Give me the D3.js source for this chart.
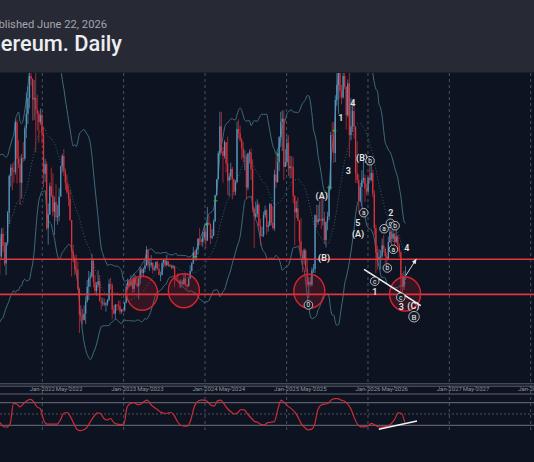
<!DOCTYPE html>
<html>
<head>
<meta charset="utf-8">
<script src="https://cdn.jsdelivr.net/npm/d3@7"></script>
<style>
    html, body { margin: 0; padding: 0; background: #0d1320; overflow: hidden; }
    svg { display: block; }
</style>
</head>
<body>
<div id="chart-container"></div>
<script>
// Weekly candles as [close, high, low]; each week opens at the previous close.
const weekStart = "2021-02-08";
const firstOpen = 1610;

const weeks2021 = [
    [1780,1870,1560],[1930,2040,1730],[1420,1960,1370],[1660,1700,1400],[1850,1940,1640],[1780,1880,1730],
    [1710,1830,1580],[2090,2140,1700],[2140,2200,1950],[2240,2550,1950],[2310,2420,2040],[2950,2980,2300],
    [3920,4000,2950],[3580,4380,3500],[2100,3600,1730],[2280,2900,2100],[2630,2890,2250],[2370,2650,2320],
    [2250,2620,2030],[1990,2300,1720],[2320,2400,1950],[2140,2410,2050],[1890,2200,1850],[2190,2200,1720],
    [2630,2650,2150],[3160,3180,2460],[3280,3330,3000],[3240,3340,2950],[3220,3370,3060],[3940,3960,3180],
    [3410,3980,3050],[3330,3680,3270],[3060,3450,2740],[3420,3480,2830],[3410,3650,3360],[3850,3890,3380],
    [4060,4370,3710],[4290,4460,3910],[4610,4660,4140],[4570,4870,4470],[4270,4570,3960],[4290,4550,3970],
    [4120,4780,3500],[4060,4340,3820],[3940,4100,3640],[4040,4140,3900],[3770,4100,3630]
];
const weeks2022 = [
    [3190,3880,3000],[3330,3410,3070],[2400,3370,2370],[2600,2760,2160],[3010,3060,2590],[2880,3280,2850],
    [2640,3200,2570],[2780,2860,2300],[2560,3040,2500],[2580,2740,2450],[2860,2980,2500],[3300,3310,2860],
    [3450,3480,3210],[3230,3550,3160],[3060,3270,2960],[2920,3180,2900],[2830,3030,2720],[2520,2960,2500],
    [2060,2520,1700],[1970,2160,1910],[1810,2010,1720],[1800,2020,1740],[1520,1920,1500],[1150,1540,880],
    [1140,1280,1040],[1070,1230,1000],[1160,1280,1060],[1340,1410,1010],[1550,1650,1320],[1680,1780,1360],
    [1700,1760,1550],[1930,2030,1680],[1620,1960,1540],[1490,1720,1430],[1580,1620,1420],[1630,1790,1540],
    [1340,1720,1340],[1320,1400,1220],[1320,1390,1270],[1290,1380,1270],[1310,1330,1190],[1360,1370,1270],
    [1590,1660,1340],[1570,1680,1510],[1220,1600,1080],[1160,1280,1150],[1290,1300,1080],[1280,1300,1200],
    [1270,1350,1220],[1190,1350,1150],[1220,1230,1160],[1210,1230,1180]
];
const weeks2023 = [
    [1320,1330,1190],[1550,1600,1310],[1630,1670,1510],[1570,1660,1540],[1630,1720,1560],[1520,1680,1460],
    [1680,1740,1470],[1600,1720,1580],[1560,1670,1540],[1670,1680,1370],[1800,1840,1590],[1750,1830,1680],
    [1810,1830,1690],[1860,1940,1760],[2090,2140,1850],[1870,2100,1820],[1870,1960,1780],[1900,2010,1830],
    [1800,1900,1740],[1820,1860,1780],[1910,1920,1780],[1810,1930,1800],[1720,1890,1720],[1720,1770,1630],
    [1890,1930,1720],[1940,1950,1830],[1860,1960,1840],[1920,2020,1860],[1860,1920,1850],[1860,1880,1840],
    [1830,1870,1800],[1850,1870,1810],[1670,1850,1550],[1650,1700,1630],[1630,1750,1620],[1600,1650,1540],
    [1620,1660,1530],[1590,1650,1570],[1670,1750,1570],[1580,1750,1550],[1560,1590,1520],[1670,1690,1550],
    [1780,1860,1670],[1890,1910,1770],[2050,2130,1880],[2010,2080,1930],[2090,2100,1930],[2250,2250,2020],
    [2240,2400,2150],[2200,2250,2150],[2270,2340,2130],[2350,2450,2220]
];
const weeks2024 = [
    [2220,2420,2110],[2480,2710,2220],[2460,2580,2440],[2260,2470,2170],[2290,2390,2240],[2500,2530,2290],
    [2880,2880,2490],[3110,3110,2870],[3490,3520,3110],[3880,4090,3450],[3520,4090,3480],[3450,3580,3060],
    [3650,3680,3410],[3340,3650,3210],[3090,3730,2880],[3150,3200,2860],[3260,3350,3100],[3110,3290,2820],
    [2930,3120,2870],[3070,3100,2880],[3840,3950,3060],[3780,3980,3700],[3680,3890,3650],[3560,3710,3400],
    [3430,3650,3360],[3440,3530,3240],[2990,3480,2820],[3480,3500,2950],[3500,3540,3340],[3260,3560,3100],
    [2680,3400,2630],[2570,2700,2110],[2610,2790,2550],[2740,2820,2560],[2440,2770,2410],[2290,2540,2150],
    [2300,2420,2280],[2590,2640,2270],[2660,2730,2550],[2420,2680,2310],[2440,2500,2350],[2750,2770,2430],
    [2480,2760,2440],[2400,2720,2380],[3180,3250,2360],[3070,3440,2980],[3360,3500,3060],[3720,3740,3230],
    [3940,4090,3580],[3990,4110,3520],[3290,4110,3100],[3360,3550,3300],[3640,3750,3340]
];
const weeks2025 = [
    [3270,3750,3160],[3300,3450,3120],[3290,3450,3130],[2870,3430,2760],[2630,2880,2150],[2690,2800,2550],
    [2510,2850,2500],[2210,2520,2080],[2020,2550,1990],[1940,2080,1760],[2080,2110,1870],[1820,2100,1770],
    [1580,1960,1550],[1620,1690,1390],[1580,1690,1550],[1790,1830,1560],[1810,1880,1750],[2590,2600,1750],
    [2490,2740,2410],[2530,2740,2450],[2530,2790,2500],[2510,2880,2390],[2540,2880,2440],[2230,2640,2170],
    [2490,2500,2120],[2570,2640,2370],[2970,3030,2520],[3750,3800,2950],[3740,3940,3510],[3490,3940,3350],
    [4260,4330,3360],[4480,4790,4180],[4780,4950,4060],[4390,4790,4280],[4300,4480,4200],[4610,4770,4280],
    [4450,4770,4420],[4040,4460,3830],[4500,4560,4010],[3750,4760,3430],[3880,4290,3680],[4100,4250,3800],
    [3870,4250,3700],[3200,3880,3060],[3100,3660,3050],[2800,3180,2620],[3000,3060,2780],[3100,3240,2720],
    [3130,3450,3050],[2980,3180,2780],[2930,3050,2880],[3130,3150,2900]
];
const weeks2026 = [
    [3100,3300,3050],[3200,3400,3080],[2900,3250,2850],[2400,2950,2300],[2050,2450,1750],[1950,2150,1800],
    [1980,2100,1850],[2000,2080,1800],[2150,2250,1950],[2100,2300,2050],[2000,2120,1900],[1950,2050,1880],
    [2200,2280,1940],[2350,2420,2180],[2250,2380,2150],[2320,2400,2200],[2200,2330,2150],[2280,2380,2180],
    [2150,2300,2100],[2050,2180,1980],[1700,2080,1450],[1550,1750,1420],[1700,1780,1500],[1720,1850,1650]
];

// Support / resistance levels and highlighted zones (decimal year, price).
const levels = [1950, 1440];
const zones = [
    {yr: 2023.227, p: 1456}, {yr: 2023.740, p: 1493},
    {yr: 2025.279, p: 1485}, {yr: 2026.456, p: 1446}
];

// Oscillator, one reading every 15 days.
const oscStart = "2021-06-26";
const oscStepDays = 15;
const oscValues = [
    27,16,15,25,78,76,69,78,85,89,83,69,64,34,23,23,23,23,34,52,
    54,43,25,9,6,8,15,30,43,53,52,38,34,38,27,23,22,23,69,78,
    80,75,76,83,87,76,68,62,55,52,52,54,47,30,20,18,18,34,68,83,
    87,87,83,74,71,85,87,76,64,56,50,53,62,61,50,40,31,28,22,21,
    27,28,30,61,87,80,71,65,56,43,25,15,8,9,21,61,74,76,78,87,
    91,91,87,84,76,61,38,21,16,16,18,25,21,16,15,16,18,25,36,53,
    52,27
];
const oscLevels = [80, 50, 20];

const tickLabels = ["Jan-2022","May-2022","Jan-2023","May-2023","Jan-2024","May-2024","Jan-2025",
    "May-2025","Jan-2026","May-2026","Jan-2027","May-2027","Jan-2028"];

// Wave counts (decimal year, price).
const waveLabels = [
    {t: "1", yr: 2025.666, p: 4004, ring: false}, {t: "4", yr: 2025.813, p: 4213, ring: false},
    {t: "3", yr: 2025.759, p: 3235, ring: false}, {t: "(B)", yr: 2025.927, p: 3424, ring: false},
    {t: "b", yr: 2026.025, p: 3380, ring: true}, {t: "(A)", yr: 2025.432, p: 2872, ring: false},
    {t: "(B)", yr: 2025.461, p: 1972, ring: false}, {t: "0", yr: 2025.268, p: 1286, ring: true},
    {t: "a", yr: 2025.948, p: 2626, ring: true}, {t: "5", yr: 2025.875, p: 2472, ring: false},
    {t: "(A)", yr: 2025.878, p: 2312, ring: false}, {t: "a", yr: 2026.198, p: 2393, ring: true},
    {t: "2", yr: 2026.280, p: 2617, ring: false}, {t: "c", yr: 2026.275, p: 2472, ring: true},
    {t: "b", yr: 2026.333, p: 2437, ring: true}, {t: "a", yr: 2026.312, p: 2094, ring: true},
    {t: "4", yr: 2026.477, p: 2113, ring: false}, {t: "b", yr: 2026.238, p: 1823, ring: true},
    {t: "c", yr: 2026.083, p: 1630, ring: true}, {t: "1", yr: 2026.083, p: 1479, ring: false},
    {t: "c", yr: 2026.403, p: 1398, ring: true}, {t: "3", yr: 2026.410, p: 1253, ring: false},
    {t: "(C)", yr: 2026.558, p: 1271, ring: false}, {t: "B", yr: 2026.566, p: 1116, ring: true}
];

const greenMarks = [
    {yr: 2023.880, p: 1987}, {yr: 2024.020, p: 2458}, {yr: 2024.130, p: 2797},
    {yr: 2024.892, p: 3463}, {yr: 2025.526, p: 2991}, {yr: 2025.587, p: 3816}
];

const trendLine = [{yr: 2025.952, p: 1804}, {yr: 2026.649, p: 1276}];
const arrowLine = [{yr: 2026.468, p: 1719}, {yr: 2026.591, p: 1947}];
const oscTrend = [{yr: 2026.133, v: 9.3}, {yr: 2026.603, v: 31.3}];

const width = 534;
const height = 462;
const headerHeight = 72.5;
const paneTop = 73;
const paneBottom = 383;
const gridBottom = 433;

const upColor = "#5893bb";
const downColor = "#d8323d";
const bandColor = "#3f6d7d";
const red = "#e2363f";
const fontFamily = "Roboto, 'Noto Sans', sans-serif";

const dayMs = 864e5;
const parseDay = d3.utcParse("%Y-%m-%d");
const parseTick = d3.utcParse("%b-%Y");

function fromYear(yr) {
    const y0 = Math.floor(yr);
    const a = Date.UTC(y0, 0, 1);
    const b = Date.UTC(y0 + 1, 0, 1);
    return new Date(a + (yr - y0) * (b - a));
}

const x = d3.scaleUtc()
    .domain([new Date(Date.UTC(2022, 0, 1)), new Date(Date.UTC(2028, 0, 1))])
    .range([42.3, 530.7]);

const y = d3.scaleLinear()
    .domain([0, 5000])
    .range([393.6, 49.1]);

const yOsc = d3.scaleLinear()
    .domain([0, 100])
    .range([432.8, 395.2]);

// candles
const rows = [].concat(weeks2021, weeks2022, weeks2023, weeks2024, weeks2025, weeks2026);
const start = parseDay(weekStart).getTime();
let prevClose = firstOpen;
const candles = rows.map((r, i) => {
    const open = prevClose;
    prevClose = r[0];
    return {
        date: new Date(start + (i * 7 + 3.5) * dayMs),
        open: open,
        close: r[0],
        high: Math.max(r[1], open, r[0]),
        low: Math.min(r[2], open, r[0])
    };
});

// Bollinger bands (20, 2) on the weekly closes
const bands = [];
candles.forEach((d, i) => {
    if (i < 19) return;
    const win = candles.slice(i - 19, i + 1).map(c => c.close);
    const m = d3.mean(win);
    const sd = Math.sqrt(d3.mean(win, v => (v - m) * (v - m)));
    bands.push({date: d.date, mid: m, up: m + 2 * sd, lo: m - 2 * sd});
});

const osc = oscValues.map((v, i) => ({
    date: new Date(parseDay(oscStart).getTime() + i * oscStepDays * dayMs),
    v: v
}));

const svg = d3.select("#chart-container").append("svg")
    .attr("width", width)
    .attr("height", height)
    .style("font-family", fontFamily);

const defs = svg.append("defs");
defs.append("clipPath").attr("id", "pane")
    .append("rect")
    .attr("x", 0).attr("y", paneTop)
    .attr("width", width).attr("height", paneBottom - paneTop);
defs.append("marker")
    .attr("id", "arrow")
    .attr("viewBox", "0 0 10 10")
    .attr("refX", 8).attr("refY", 5)
    .attr("markerWidth", 6).attr("markerHeight", 6)
    .attr("orient", "auto")
    .append("path")
    .attr("d", "M0,1 L10,5 L0,9 Z")
    .attr("fill", "#e8e8e8");

svg.append("rect")
    .attr("width", width).attr("height", height)
    .attr("fill", "#0d1320");

// year grid
const ticks = tickLabels.map(t => ({label: t, date: parseTick(t)}));
svg.append("g")
    .selectAll("line")
    .data(ticks.filter(t => t.label.startsWith("Jan")))
    .join("line")
    .attr("x1", d => x(d.date)).attr("x2", d => x(d.date))
    .attr("y1", paneTop).attr("y2", gridBottom)
    .attr("stroke", "#4b515e")
    .attr("stroke-width", 1)
    .attr("stroke-dasharray", "3,3");

const pane = svg.append("g").attr("clip-path", "url(#pane)");

// bands
const bandLine = key => d3.line()
    .x(d => x(d.date))
    .y(d => y(d[key]))
    .curve(d3.curveMonotoneX);

pane.append("path").datum(bands)
    .attr("d", bandLine("mid"))
    .attr("fill", "none")
    .attr("stroke", bandColor)
    .attr("stroke-width", 0.8)
    .attr("stroke-dasharray", "1,2");
["up", "lo"].forEach(k => {
    pane.append("path").datum(bands)
        .attr("d", bandLine(k))
        .attr("fill", "none")
        .attr("stroke", bandColor)
        .attr("stroke-width", 1);
});

// candles
const candleG = pane.append("g");
candleG.selectAll(".wick")
    .data(candles)
    .join("line")
    .attr("class", "wick")
    .attr("x1", d => x(d.date)).attr("x2", d => x(d.date))
    .attr("y1", d => y(d.high)).attr("y2", d => y(d.low))
    .attr("stroke", d => d.close >= d.open ? upColor : downColor)
    .attr("stroke-width", 0.7);
candleG.selectAll(".body")
    .data(candles)
    .join("rect")
    .attr("class", "body")
    .attr("x", d => x(d.date) - 0.65)
    .attr("width", 1.3)
    .attr("y", d => y(Math.max(d.open, d.close)))
    .attr("height", d => Math.max(0.8, Math.abs(y(d.open) - y(d.close))))
    .attr("fill", d => d.close >= d.open ? upColor : downColor);

// green markers
const gm = pane.append("g").attr("stroke", "#3cb44b").attr("stroke-width", 1);
greenMarks.forEach(d => {
    const cx = x(fromYear(d.yr));
    const cy = y(d.p);
    gm.append("line").attr("x1", cx - 2).attr("x2", cx + 2).attr("y1", cy).attr("y2", cy);
    gm.append("line").attr("x1", cx).attr("x2", cx).attr("y1", cy - 1.5).attr("y2", cy + 1.5);
});

// levels
pane.selectAll(".level")
    .data(levels)
    .join("line")
    .attr("class", "level")
    .attr("x1", 0).attr("x2", width)
    .attr("y1", d => y(d)).attr("y2", d => y(d))
    .attr("stroke", red)
    .attr("stroke-width", 1.7);

// zones
pane.selectAll(".zone")
    .data(zones)
    .join("ellipse")
    .attr("class", "zone")
    .attr("cx", d => x(fromYear(d.yr)))
    .attr("cy", d => y(d.p))
    .attr("rx", 15.5)
    .attr("ry", 17)
    .attr("fill", "rgba(190, 30, 45, 0.22)")
    .attr("stroke", "#d4252f")
    .attr("stroke-width", 1.4);

// trend line and arrow
pane.append("line")
    .attr("x1", x(fromYear(trendLine[0].yr))).attr("y1", y(trendLine[0].p))
    .attr("x2", x(fromYear(trendLine[1].yr))).attr("y2", y(trendLine[1].p))
    .attr("stroke", "#f2f2f2")
    .attr("stroke-width", 1.6);
pane.append("line")
    .attr("x1", x(fromYear(arrowLine[0].yr))).attr("y1", y(arrowLine[0].p))
    .attr("x2", x(fromYear(arrowLine[1].yr))).attr("y2", y(arrowLine[1].p))
    .attr("stroke", "#e8e8e8")
    .attr("stroke-width", 0.9)
    .attr("marker-end", "url(#arrow)");

// wave labels
const waves = pane.append("g");
waveLabels.forEach(d => {
    const cx = x(fromYear(d.yr));
    const cy = y(d.p);
    if (d.ring) {
        const big = d.t === d.t.toUpperCase() && isNaN(+d.t);
        waves.append("circle")
            .attr("cx", cx).attr("cy", cy)
            .attr("r", big ? 5.3 : 4.3)
            .attr("fill", "#151b27")
            .attr("stroke", "#d8d8d8")
            .attr("stroke-width", 0.8);
        waves.append("text")
            .attr("x", cx).attr("y", cy)
            .attr("dy", "0.35em")
            .attr("text-anchor", "middle")
            .attr("font-size", big ? 8 : 6.5)
            .attr("fill", "#eeeeee")
            .text(d.t);
    } else {
        waves.append("text")
            .attr("x", cx).attr("y", cy)
            .attr("dy", "0.35em")
            .attr("text-anchor", "middle")
            .attr("font-size", 9)
            .attr("font-weight", 600)
            .attr("fill", "#e4e4e4")
            .text(d.t);
    }
});

// time axis
[383.8, 386.2].forEach(v => {
    svg.append("line")
        .attr("x1", 0).attr("x2", width)
        .attr("y1", v).attr("y2", v)
        .attr("stroke", "#5e626d")
        .attr("stroke-width", 1);
});
svg.append("g")
    .selectAll("line")
    .data(ticks.filter(t => !t.label.startsWith("Jan")))
    .join("line")
    .attr("x1", d => x(d.date)).attr("x2", d => x(d.date))
    .attr("y1", 386).attr("y2", 388.5)
    .attr("stroke", "#5e626d");
svg.append("g")
    .selectAll("text")
    .data(ticks)
    .join("text")
    .attr("x", d => x(d.date))
    .attr("y", 391.3)
    .attr("text-anchor", "middle")
    .attr("font-size", 6)
    .attr("fill", "#8f939c")
    .text(d => d.label);
svg.append("line")
    .attr("x1", 0).attr("x2", width)
    .attr("y1", 394).attr("y2", 394)
    .attr("stroke", "#5e626d")
    .attr("stroke-width", 1.2);

// oscillator pane
svg.append("g")
    .selectAll("line")
    .data(oscLevels)
    .join("line")
    .attr("x1", 0).attr("x2", width)
    .attr("y1", d => yOsc(d)).attr("y2", d => yOsc(d))
    .attr("stroke", d => d === 50 ? "#6a6e79" : "#5a5e69")
    .attr("stroke-width", d => d === 50 ? 0.7 : 1.3)
    .attr("stroke-dasharray", d => d === 50 ? "2,2" : null);

svg.append("path").datum(osc)
    .attr("d", d3.line()
        .x(d => x(d.date))
        .y(d => yOsc(d.v))
        .curve(d3.curveMonotoneX))
    .attr("fill", "none")
    .attr("stroke", "#d02c37")
    .attr("stroke-width", 1.2);

svg.append("line")
    .attr("x1", x(fromYear(oscTrend[0].yr))).attr("y1", yOsc(oscTrend[0].v))
    .attr("x2", x(fromYear(oscTrend[1].yr))).attr("y2", yOsc(oscTrend[1].v))
    .attr("stroke", "#f2f2f2")
    .attr("stroke-width", 1.5);

// header
svg.append("rect")
    .attr("width", width).attr("height", headerHeight)
    .attr("fill", "#272a35");
svg.append("text")
    .attr("x", 107).attr("y", 28)
    .attr("text-anchor", "end")
    .attr("font-size", 11.2)
    .attr("fill", "#a3a6af")
    .text("published June 22, 2026");
svg.append("text")
    .attr("x", 122).attr("y", 51)
    .attr("text-anchor", "end")
    .attr("font-size", 21.8)
    .attr("font-weight", 500)
    .attr("fill", "#eceef2")
    .text("Ethereum. Daily");
</script>
</body>
</html>
